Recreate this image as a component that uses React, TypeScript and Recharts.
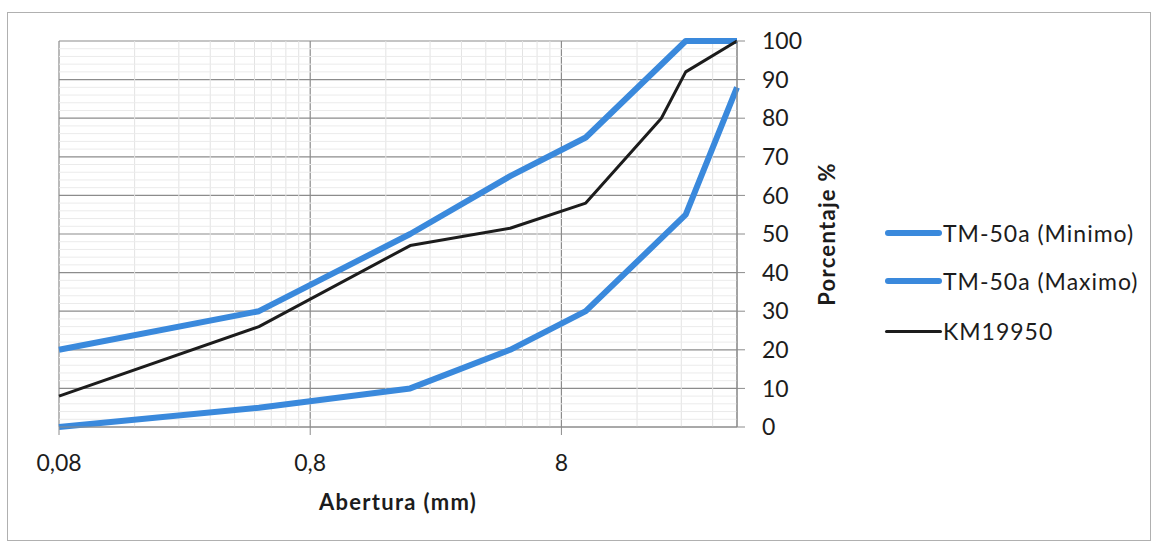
import React from 'react';
import { LineChart, Line, XAxis, YAxis, CartesianGrid, ReferenceLine, Label } from 'recharts';

// Granulometría: abertura del tamiz (mm) vs porcentaje que pasa
const sizesMin = [0.08, 0.5, 2, 5, 10, 25, 40];
const passMin = [0, 5, 10, 20, 30, 55, 88];
const sizesMax = [0.08, 0.5, 2, 5, 10, 25, 40];
const passMax = [20, 30, 50, 65, 75, 100, 100];
const sizesKm = [0.08, 0.5, 2, 5, 10, 20, 25, 40];
const passKm = [8, 26, 47, 51.5, 58, 80, 92, 100];

const seriesNames = ['TM-50a (Minimo)', 'TM-50a (Maximo)', 'KM19950'];
const xTicks = [0.08, 0.8, 8];
const xTickLabels = ['0,08', '0,8', '8'];
const yTicks = [0, 10, 20, 30, 40, 50, 60, 70, 80, 90, 100];
const xMinor = [0.16, 0.24, 0.32, 0.4, 0.48, 0.56, 0.64, 0.72, 1.6, 2.4, 3.2, 4, 4.8, 5.6, 6.4, 7.2, 16, 24, 32];
const yMinor = [2, 4, 6, 8, 12, 14, 16, 18, 22, 24, 26, 28, 32, 34, 36, 38, 42, 44, 46, 48, 52, 54, 56, 58,
  62, 64, 66, 68, 72, 74, 76, 78, 82, 84, 86, 88, 92, 94, 96, 98];

const BLUE = '#3a89dc';
const INK = '#1c1c1c';
const FONT = 'Lato, "Open Sans", sans-serif';

const minData = sizesMin.map((x, i) => ({ x, y: passMin[i] }));
const maxData = sizesMax.map((x, i) => ({ x, y: passMax[i] }));
const kmData = sizesKm.map((x, i) => ({ x, y: passKm[i] }));

const legendItems = [
  { name: seriesNames[0], color: BLUE, width: 6, top: 233 },
  { name: seriesNames[1], color: BLUE, width: 6, top: 281 },
  { name: seriesNames[2], color: INK, width: 3, top: 331 },
];

export default function App() {
  return (
    <div style={{ position: 'absolute', left: 0, top: 0, width: 1156, height: 545, background: '#fff', fontFamily: FONT }}>
      <div style={{ position: 'absolute', left: 7, top: 12, width: 1142, height: 527, border: '1px solid #b0b0b0' }} />
      <LineChart width={1156} height={545} margin={{ top: 41, right: 239, left: 59, bottom: 0 }}>
        {xMinor.map((v) => (
          <ReferenceLine key={'mx' + v} x={v} stroke="#e3e3e3" strokeWidth={1} />
        ))}
        {yMinor.map((v) => (
          <ReferenceLine key={'my' + v} y={v} stroke="#ebebeb" strokeWidth={1} />
        ))}
        <CartesianGrid stroke="#8c8c8c" strokeWidth={1.2} />
        <XAxis
          dataKey="x"
          type="number"
          scale="log"
          domain={[0.08, 40]}
          ticks={xTicks}
          tickFormatter={(v: number) => xTickLabels[xTicks.indexOf(v)] ?? String(v)}
          height={118}
          stroke="#8c8c8c"
          tickSize={8}
          tickMargin={20}
          tick={{ fontSize: 23, fill: INK, fontFamily: FONT }}
        >
          <Label
            value="Abertura (mm)"
            position="insideTop"
            offset={67}
            style={{ fontSize: 22, fontWeight: 700, fill: INK, fontFamily: FONT, letterSpacing: 1.3 }}
          />
        </XAxis>
        <YAxis
          orientation="right"
          type="number"
          domain={[0, 100]}
          ticks={yTicks}
          width={180}
          stroke="#8c8c8c"
          tickSize={8}
          tickMargin={17}
          tick={{ fontSize: 23, fill: INK, fontFamily: FONT }}
        >
          <Label
            value="Porcentaje %"
            angle={-90}
            position="center"
            style={{ fontSize: 22, fontWeight: 700, fill: INK, fontFamily: FONT, textAnchor: 'middle', letterSpacing: 1.3 }}
          />
        </YAxis>
        <Line data={minData} dataKey="y" name={seriesNames[0]} type="linear" stroke={BLUE} strokeWidth={6}
          dot={false} strokeLinejoin="round" isAnimationActive={false} />
        <Line data={maxData} dataKey="y" name={seriesNames[1]} type="linear" stroke={BLUE} strokeWidth={6}
          dot={false} strokeLinejoin="round" isAnimationActive={false} />
        <Line data={kmData} dataKey="y" name={seriesNames[2]} type="linear" stroke={INK} strokeWidth={3}
          dot={false} strokeLinejoin="round" isAnimationActive={false} />
      </LineChart>
      {legendItems.map((it) => (
        <div key={it.name} style={{ position: 'absolute', left: 885, top: it.top - 15, height: 30, display: 'flex', alignItems: 'center' }}>
          <div style={{ width: 57, height: it.width, background: it.color, borderRadius: it.width / 2 }} />
          <span style={{ fontSize: 23, color: INK, marginLeft: 1, whiteSpace: 'nowrap', letterSpacing: 1 }}>{it.name}</span>
        </div>
      ))}
    </div>
  );
}
